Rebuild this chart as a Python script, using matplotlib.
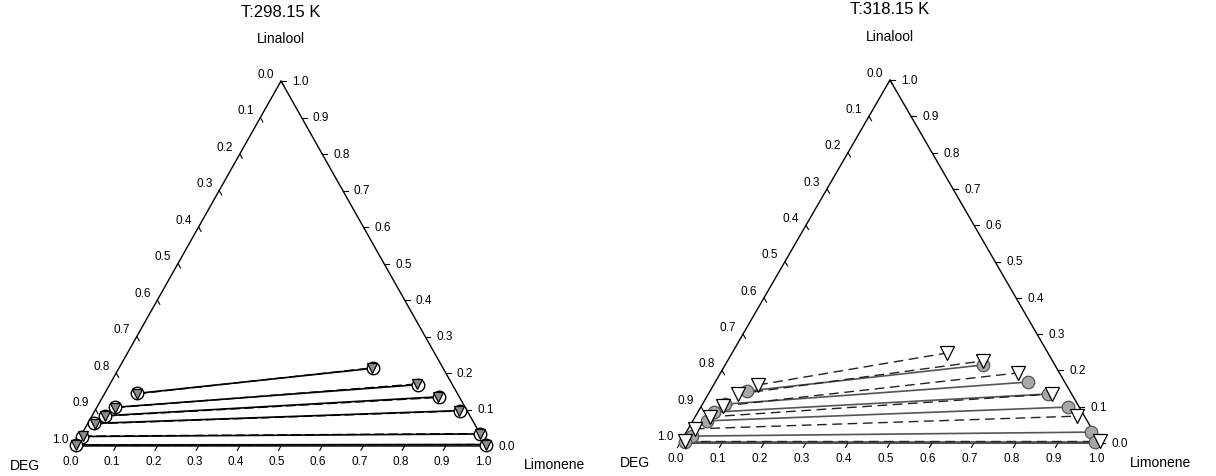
import numpy as np
import matplotlib
matplotlib.use('Agg')
import matplotlib.pyplot as plt

plt.rcParams['font.family'] = ['Liberation Sans', 'DejaVu Sans']

H = np.sqrt(3) / 2

# ===============================
# DATA (mole fractions: limonene, linalool; DEG = rest)
# ===============================
ticks = [0.0, 0.1, 0.2, 0.3, 0.4, 0.5, 0.6, 0.7, 0.8, 0.9, 1.0]
tick_labels = ["0.0", "0.1", "0.2", "0.3", "0.4", "0.5", "0.6", "0.7", "0.8", "0.9", "1.0"]

# T = 298.15 K, experimental tie lines
exp298_deg_lim = [0.078, 0.044, 0.032, 0.016, 0.004, 0.002]
exp298_deg_lin = [0.144, 0.106, 0.083, 0.062, 0.026, 0.003]
exp298_lim_lim = [0.618, 0.749, 0.817, 0.886, 0.967, 0.996]
exp298_lim_lin = [0.213, 0.168, 0.135, 0.097, 0.033, 0.004]
# T = 298.15 K, calculated tie lines
calc298_deg_lim = [0.080, 0.045, 0.033, 0.017, 0.005, 0.002]
calc298_deg_lin = [0.143, 0.105, 0.082, 0.061, 0.027, 0.003]
calc298_lim_lim = [0.615, 0.745, 0.815, 0.884, 0.965, 0.995]
calc298_lim_lin = [0.214, 0.170, 0.133, 0.096, 0.034, 0.004]

# T = 318.15 K, experimental tie lines
exp318_deg_lim = [0.088, 0.054, 0.038, 0.034, 0.019, 0.010]
exp318_deg_lin = [0.143, 0.107, 0.085, 0.061, 0.019, 0.003]
exp318_lim_lim = [0.614, 0.745, 0.809, 0.874, 0.964, 0.986]
exp318_lim_lin = [0.215, 0.168, 0.135, 0.099, 0.030, 0.003]
# T = 318.15 K, calculated tie lines
calc318_deg_lim = [0.106, 0.071, 0.051, 0.035, 0.016, 0.009]
calc318_deg_lin = [0.160, 0.135, 0.102, 0.072, 0.039, 0.006]
calc318_lim_lim = [0.512, 0.608, 0.708, 0.818, 0.908, 0.997]
calc318_lim_lin = [0.248, 0.226, 0.193, 0.135, 0.074, 0.006]


def to_xy(lim, lin):
    lim = np.asarray(lim)
    lin = np.asarray(lin)
    return lim + lin / 2, lin * H


def draw_frame(ax, title, title_y, lin_y, deg_xy, limo_xy):
    ax.plot([0, 1, 0.5, 0], [0, 0, H, 0], color='black', lw=1.0, clip_on=False)
    t = 0.012
    for v, lab in zip(ticks, tick_labels):
        # bottom (limonene)
        ax.plot([v, v - 0.5 * t], [0, -H * t], color='black', lw=0.8, clip_on=False)
        ax.text(v - 0.01, -0.036, lab, ha='center', va='center', fontsize=8.5)
        # left edge (DEG)
        px, py = 0.5 - 0.5 * v, H * (1 - v)
        ax.plot([px, px + 0.5 * t], [py, py - H * t], color='black', lw=0.8, clip_on=False)
        ax.text(px - 0.036, py + 0.017, lab, ha='center', va='center', fontsize=8.5)
        # right edge (linalool)
        px, py = 1 - 0.5 * v, H * v
        ax.plot([px, px + t], [py, py], color='black', lw=0.8, clip_on=False)
        ax.text(px + 0.047, py, lab, ha='center', va='center', fontsize=8.5)

    ax.text(0.5, title_y, title, ha='center', va='center', fontsize=12)
    ax.text(0.5, lin_y, "Linalool", ha='center', va='center', fontsize=10)
    ax.text(deg_xy[0], deg_xy[1], "DEG", ha='center', va='center', fontsize=10)
    ax.text(limo_xy[0], limo_xy[1], "Limonene", ha='center', va='center', fontsize=10)
    ax.set_xlim(0, 1)
    ax.set_ylim(0, H)
    ax.axis('off')


def draw_ties(ax, deg_lim, deg_lin, lim_lim, lim_lin, line_kw, marker_kw):
    x1, y1 = to_xy(deg_lim, deg_lin)
    x2, y2 = to_xy(lim_lim, lim_lin)
    for i in range(len(x1)):
        ax.plot([x1[i], x2[i]], [y1[i], y2[i]], clip_on=False, zorder=2, **line_kw)
    ax.plot(x1, y1, linestyle='none', clip_on=False, zorder=3, **marker_kw)
    ax.plot(x2, y2, linestyle='none', clip_on=False, zorder=3, **marker_kw)


fig = plt.figure(figsize=(12.16, 4.77), dpi=100)

# ===============================
# PANEL 1: 298.15 K
# ===============================
ax1 = fig.add_axes([75 / 1216, 30 / 477, 412 / 1216, 365 / 477])
draw_frame(ax1, "T:298.15 K", 1.031, 0.967, (-0.121, -0.045), (1.165, -0.043))
draw_ties(ax1, exp298_deg_lim, exp298_deg_lin, exp298_lim_lim, exp298_lim_lin,
          dict(color='black', lw=1.2, linestyle='-'),
          dict(marker='o', markersize=9, markerfacecolor='white',
               markeredgecolor='black', markeredgewidth=1.0))
draw_ties(ax1, calc298_deg_lim, calc298_deg_lin, calc298_lim_lim, calc298_lim_lin,
          dict(color='black', lw=1.0, linestyle=(0, (7, 3))),
          dict(marker='v', markersize=7, markerfacecolor='#8c8c8c',
               markeredgecolor='black', markeredgewidth=0.9))

# ===============================
# PANEL 2: 318.15 K
# ===============================
ax2 = fig.add_axes([680 / 1216, 33 / 477, 420 / 1216, 363 / 477])
draw_frame(ax2, "T:318.15 K", 1.036, 0.971, (-0.107, -0.045), (1.143, -0.045))
draw_ties(ax2, exp318_deg_lim, exp318_deg_lin, exp318_lim_lim, exp318_lim_lin,
          dict(color='#555555', lw=1.2, linestyle='-'),
          dict(marker='o', markersize=9, markerfacecolor='#a8a8a8',
               markeredgecolor='#555555', markeredgewidth=0.9))
draw_ties(ax2, calc318_deg_lim, calc318_deg_lin, calc318_lim_lim, calc318_lim_lin,
          dict(color='#222222', lw=1.0, linestyle=(0, (7, 4))),
          dict(marker='v', markersize=9.5, markerfacecolor='white',
               markeredgecolor='black', markeredgewidth=0.9))

fig.savefig("out.png", dpi=100)
